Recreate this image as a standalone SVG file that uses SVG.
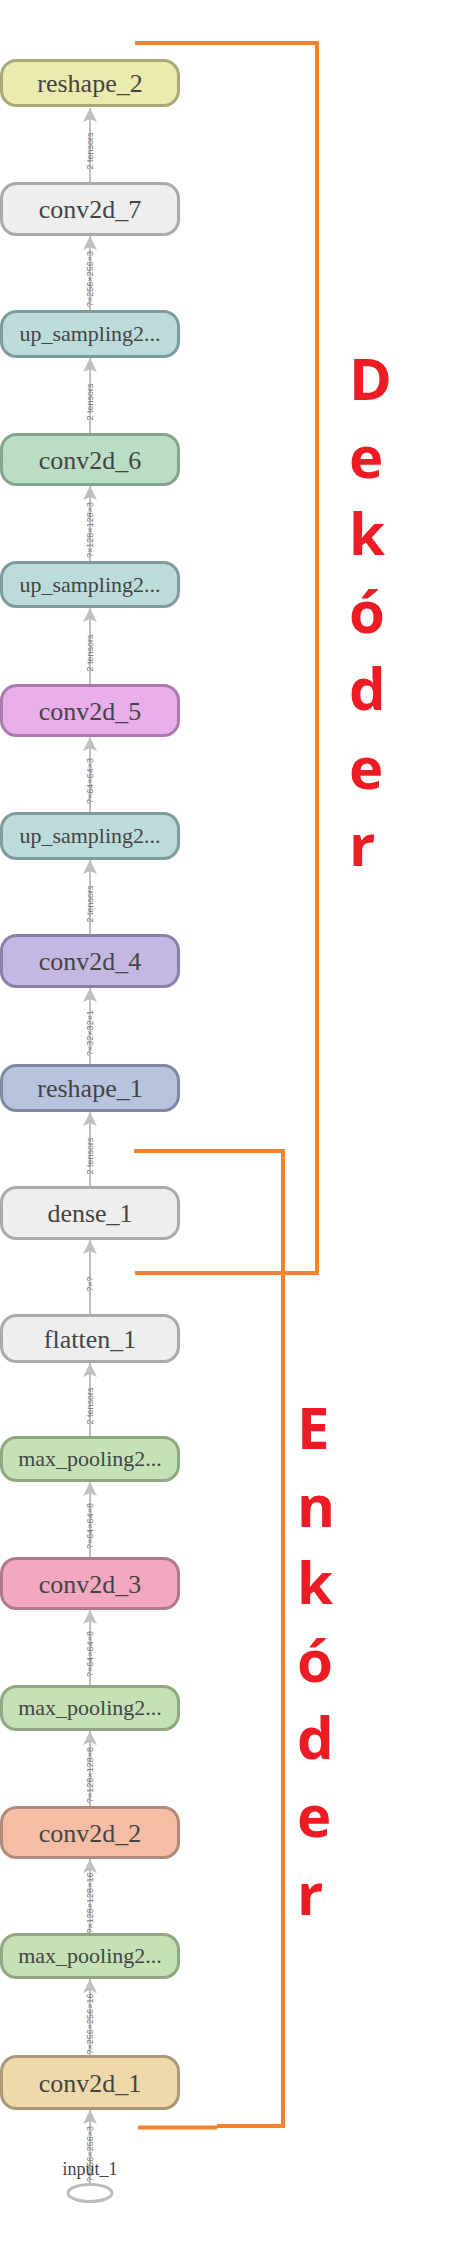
<svg xmlns="http://www.w3.org/2000/svg" width="460" height="2256" viewBox="0 0 460 2256">
<style>
.n rect{stroke-width:3}
.n text{font-family:"Liberation Serif",serif;font-size:26px;fill:#444;text-anchor:middle}
.n text.s{font-size:22px}
.e line{stroke:#c0c0c0;stroke-width:2}
.e text{font-family:"Liberation Sans",sans-serif;font-size:9px;fill:#777777;text-anchor:middle}
.br{fill:none;stroke:#f7822b;stroke-width:4}
.lbl{font-family:"Open Sans","Liberation Sans",sans-serif;font-weight:bold;font-size:58px;fill:#ed1c24}
.gray rect{fill:#eeeeee;stroke:#aaaaaa}
.up rect{fill:#bcdcdc;stroke:#7f9c9c}
.mp rect{fill:#c5e2b6;stroke:#8fa882}
</style>
<defs>
<marker id="ah" viewBox="0 0 14 14" refX="14" refY="7" markerWidth="14" markerHeight="14" markerUnits="userSpaceOnUse" orient="auto">
<path d="M0,0 L14,7 L0,14 L3,7 z" fill="#c0c0c0"/>
</marker>
</defs>

<g id="connectors" class="e">
<line x1="90" y1="182" x2="90" y2="108" marker-end="url(#ah)"/>
<text x="90" y="154" transform="rotate(-90 90 151)">2 tensors</text>
<line x1="90" y1="310" x2="90" y2="236" marker-end="url(#ah)"/>
<text x="90" y="282" transform="rotate(-90 90 279)">?×256×256×3</text>
<line x1="90" y1="433" x2="90" y2="358" marker-end="url(#ah)"/>
<text x="90" y="405" transform="rotate(-90 90 402)">2 tensors</text>
<line x1="90" y1="561" x2="90" y2="486" marker-end="url(#ah)"/>
<text x="90" y="533" transform="rotate(-90 90 530)">?×128×128×3</text>
<line x1="90" y1="684" x2="90" y2="608" marker-end="url(#ah)"/>
<text x="90" y="656" transform="rotate(-90 90 653)">2 tensors</text>
<line x1="90" y1="812" x2="90" y2="737" marker-end="url(#ah)"/>
<text x="90" y="784" transform="rotate(-90 90 781)">?×64×64×3</text>
<line x1="90" y1="934" x2="90" y2="860" marker-end="url(#ah)"/>
<text x="90" y="907" transform="rotate(-90 90 904)">2 tensors</text>
<line x1="90" y1="1064" x2="90" y2="988" marker-end="url(#ah)"/>
<text x="90" y="1036" transform="rotate(-90 90 1033)">?×32×32×1</text>
<line x1="90" y1="1186" x2="90" y2="1112" marker-end="url(#ah)"/>
<text x="90" y="1159" transform="rotate(-90 90 1156)">2 tensors</text>
<line x1="90" y1="1314" x2="90" y2="1240" marker-end="url(#ah)"/>
<text x="90" y="1287" transform="rotate(-90 90 1284)">?×?</text>
<line x1="90" y1="1436" x2="90" y2="1363" marker-end="url(#ah)"/>
<text x="90" y="1409" transform="rotate(-90 90 1406)">2 tensors</text>
<line x1="90" y1="1557" x2="90" y2="1482" marker-end="url(#ah)"/>
<text x="90" y="1529" transform="rotate(-90 90 1526)">?×64×64×8</text>
<line x1="90" y1="1685" x2="90" y2="1610" marker-end="url(#ah)"/>
<text x="90" y="1657" transform="rotate(-90 90 1654)">?×64×64×8</text>
<line x1="90" y1="1806" x2="90" y2="1731" marker-end="url(#ah)"/>
<text x="90" y="1778" transform="rotate(-90 90 1775)">?×128×128×8</text>
<line x1="90" y1="1933" x2="90" y2="1859" marker-end="url(#ah)"/>
<text x="90" y="1906" transform="rotate(-90 90 1903)">?×128×128×16</text>
<line x1="90" y1="2055" x2="90" y2="1979" marker-end="url(#ah)"/>
<text x="90" y="2027" transform="rotate(-90 90 2024)">?×256×256×16</text>
<line x1="90" y1="2184" x2="90" y2="2110" marker-end="url(#ah)"/>
<text x="90" y="2157" transform="rotate(-90 90 2154)">?×256×256×3</text>
</g>

<g id="reshape_2" class="n"><rect x="1.5" y="60.5" width="177" height="45" rx="15" fill="#ebebb0" stroke="#a8a878"/><text x="90" y="92">reshape_2</text></g>
<g id="conv2d_7" class="n gray"><rect x="1.5" y="183.5" width="177" height="51" rx="15"/><text x="90" y="218">conv2d_7</text></g>
<g id="up_sampling2d_3" class="n up"><rect x="1.5" y="311.5" width="177" height="45" rx="15"/><text class="s" x="90" y="341">up_sampling2...</text></g>
<g id="conv2d_6" class="n"><rect x="1.5" y="434.5" width="177" height="50" rx="15" fill="#b9dec4" stroke="#84a58c"/><text x="90" y="469">conv2d_6</text></g>
<g id="up_sampling2d_2" class="n up"><rect x="1.5" y="562.5" width="177" height="44" rx="15"/><text class="s" x="90" y="592">up_sampling2...</text></g>
<g id="conv2d_5" class="n"><rect x="1.5" y="685.5" width="177" height="50" rx="15" fill="#e8aeea" stroke="#aa7aac"/><text x="90" y="720">conv2d_5</text></g>
<g id="up_sampling2d_1" class="n up"><rect x="1.5" y="813.5" width="177" height="45" rx="15"/><text class="s" x="90" y="843">up_sampling2...</text></g>
<g id="conv2d_4" class="n"><rect x="1.5" y="935.5" width="177" height="51" rx="15" fill="#c4b8e2" stroke="#8a80a8"/><text x="90" y="970">conv2d_4</text></g>
<g id="reshape_1" class="n"><rect x="1.5" y="1065.5" width="177" height="45" rx="15" fill="#b8c4de" stroke="#7f8aa0"/><text x="90" y="1097">reshape_1</text></g>
<g id="dense_1" class="n gray"><rect x="1.5" y="1187.5" width="177" height="51" rx="15"/><text x="90" y="1222">dense_1</text></g>
<g id="flatten_1" class="n gray"><rect x="1.5" y="1315.5" width="177" height="46" rx="15"/><text x="90" y="1348">flatten_1</text></g>
<g id="max_pooling2d_3" class="n mp"><rect x="1.5" y="1437.5" width="177" height="43" rx="15"/><text class="s" x="90" y="1466">max_pooling2...</text></g>
<g id="conv2d_3" class="n"><rect x="1.5" y="1558.5" width="177" height="50" rx="15" fill="#f4a7c0" stroke="#b07a8c"/><text x="90" y="1593">conv2d_3</text></g>
<g id="max_pooling2d_2" class="n mp"><rect x="1.5" y="1686.5" width="177" height="43" rx="15"/><text class="s" x="90" y="1715">max_pooling2...</text></g>
<g id="conv2d_2" class="n"><rect x="1.5" y="1807.5" width="177" height="50" rx="15" fill="#f5bea4" stroke="#b08a7a"/><text x="90" y="1842">conv2d_2</text></g>
<g id="max_pooling2d_1" class="n mp"><rect x="1.5" y="1934.5" width="177" height="43" rx="15"/><text class="s" x="90" y="1963">max_pooling2...</text></g>
<g id="conv2d_1" class="n"><rect x="1.5" y="2056.5" width="177" height="52" rx="15" fill="#efd9aa" stroke="#aa9878"/><text x="90" y="2092">conv2d_1</text></g>
<g id="input_1"><ellipse cx="90" cy="2193" rx="22" ry="8.5" fill="none" stroke="#bbbbbb" stroke-width="3"/><text x="90" y="2175" font-family="Liberation Serif, serif" font-size="18" fill="#444" text-anchor="middle">input_1</text></g>

<g id="decoder">
<polyline class="br" points="135,43 317,43 317,1273 135,1273"/>
<text class="lbl" x="349" y="400">D</text>
<text class="lbl" x="349" y="478">e</text>
<text class="lbl" x="349" y="555">k</text>
<text class="lbl" x="349" y="633">ó</text>
<text class="lbl" x="349" y="710">d</text>
<text class="lbl" x="349" y="789">e</text>
<text class="lbl" x="349" y="866">r</text>
</g>
<g id="encoder">
<polyline class="br" points="134,1151 283,1151 283,2126 217,2126"/>
<line class="br" x1="138" y1="2127.5" x2="217" y2="2127.5"/>
<text class="lbl" x="297" y="1449">E</text>
<text class="lbl" x="297" y="1527">n</text>
<text class="lbl" x="297" y="1604">k</text>
<text class="lbl" x="297" y="1682">ó</text>
<text class="lbl" x="297" y="1759">d</text>
<text class="lbl" x="297" y="1837">e</text>
<text class="lbl" x="297" y="1915">r</text>
</g>
</svg>
